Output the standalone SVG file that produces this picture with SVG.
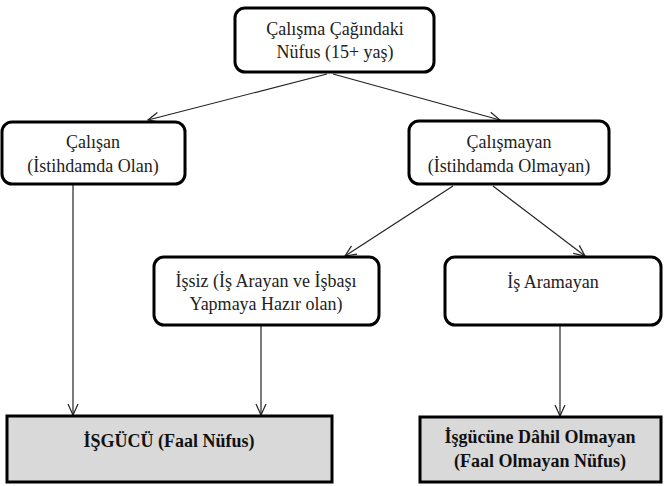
<svg xmlns="http://www.w3.org/2000/svg" width="669" height="486" viewBox="0 0 669 486">
<style>
text{font-family:"Liberation Serif","Times New Roman",serif;font-size:18px;fill:#222;text-anchor:middle}
.b{font-weight:bold;fill:#111}
.rb{fill:#fff;stroke:#000;stroke-width:3}
.gb{fill:#d9d9d9;stroke:#000;stroke-width:3}
.c{stroke:#222;stroke-width:1.2;fill:none;marker-end:url(#a)}
</style>
<defs>
<marker id="a" markerWidth="14" markerHeight="14" refX="12" refY="6" orient="auto" markerUnits="userSpaceOnUse">
<path d="M1,1 L12,6 L1,11" fill="none" stroke="#222" stroke-width="1.2"/>
</marker>
</defs>
<g id="connectors">
<line class="c" x1="327" y1="74" x2="148" y2="120"/>
<line class="c" x1="333" y1="74" x2="500" y2="120"/>
<line class="c" x1="453" y1="186" x2="345" y2="256"/>
<line class="c" x1="493" y1="186" x2="585" y2="256"/>
<line class="c" x1="73" y1="185" x2="73" y2="415"/>
<line class="c" x1="261" y1="325" x2="261" y2="415"/>
<line class="c" x1="560" y1="325" x2="560" y2="416"/>
</g>
<g id="n1"><rect class="rb" x="235" y="8" width="199" height="64" rx="10"/>
<text x="335" y="35">Çalışma Çağındaki</text><text x="335" y="58">Nüfus (15+ yaş)</text></g>
<g id="n2"><rect class="rb" x="2" y="122" width="183" height="62" rx="10"/>
<text x="93" y="148">Çalışan</text><text x="93" y="172">(İstihdamda Olan)</text></g>
<g id="n3"><rect class="rb" x="409" y="121" width="200" height="63" rx="10"/>
<text x="509" y="148">Çalışmayan</text><text x="509" y="172">(İstihdamda Olmayan)</text></g>
<g id="n4"><rect class="rb" x="154" y="257" width="225" height="68" rx="10"/>
<text x="266" y="287">İşsiz (İş Arayan ve İşbaşı</text><text x="266" y="310">Yapmaya Hazır olan)</text></g>
<g id="n5"><rect class="rb" x="445" y="257" width="216" height="68" rx="10"/>
<text x="553" y="288">İş Aramayan</text></g>
<g id="n6"><rect class="gb" x="7" y="416" width="325" height="66"/>
<text class="b" x="169" y="447">İŞGÜCÜ (Faal Nüfus)</text></g>
<g id="n7"><rect class="gb" x="420" y="417" width="241" height="65"/>
<text class="b" x="540" y="443">İşgücüne Dâhil Olmayan</text><text class="b" x="540" y="467">(Faal Olmayan Nüfus)</text></g>
</svg>
